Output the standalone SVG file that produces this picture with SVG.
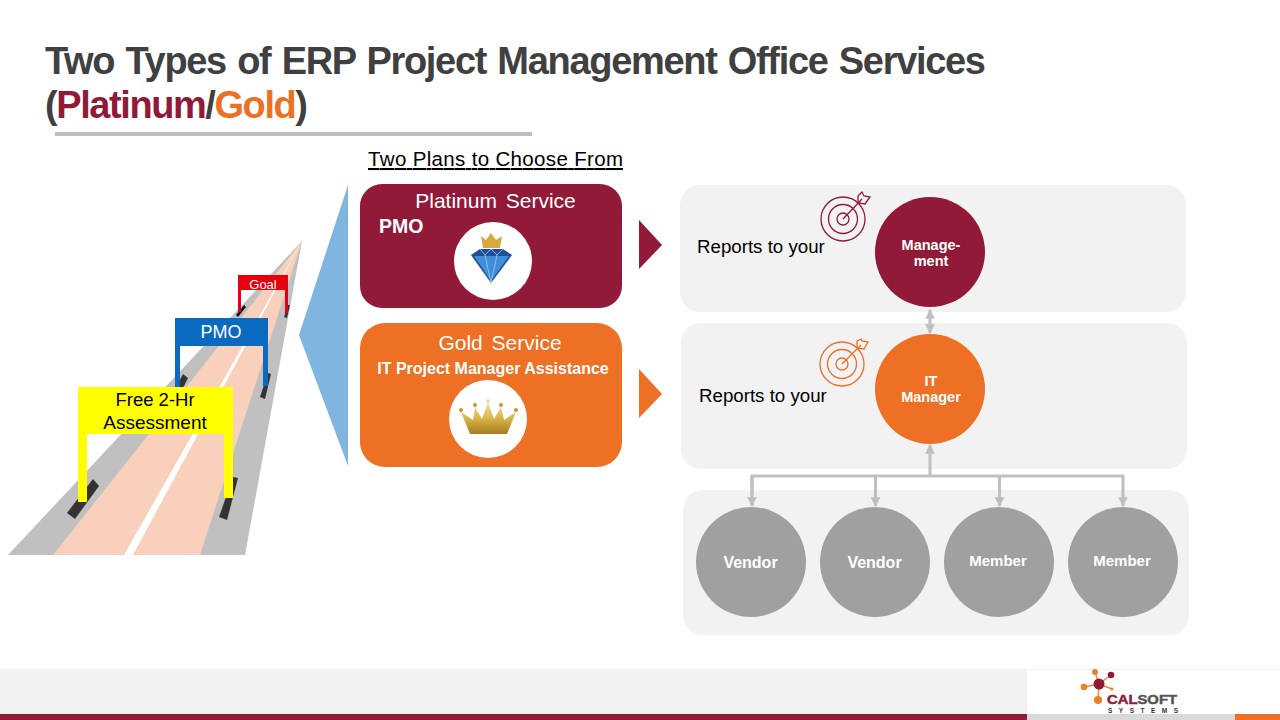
<svg xmlns="http://www.w3.org/2000/svg" width="1280" height="720" viewBox="0 0 1280 720">
<style>
text{font-family:"Liberation Sans",Arial,sans-serif}
.title{font-size:38px;font-weight:700;fill:#404040;word-spacing:2px}
.panel{fill:#f2f2f2}
.w{fill:#fff}
.c{text-anchor:middle}
.b{font-weight:700}
.dark{fill:#333}
.conn{stroke:#bfbfbf;stroke-width:3;fill:none}
.grey{fill:#a0a0a0}
</style>
<defs>
<linearGradient id="gold" x1="0" y1="0" x2="0" y2="1"><stop offset="0" stop-color="#f6e7b0"/><stop offset="0.5" stop-color="#d9b44a"/><stop offset="1" stop-color="#a97d1e"/></linearGradient>
<marker id="ah" viewBox="0 0 10 10" refX="9" refY="5" markerWidth="3.200" markerHeight="3.200" orient="auto-start-reverse"><path d="M0 0L10 5L0 10Z" fill="#bfbfbf"/></marker>
</defs>
<rect width="1280" height="720" fill="#fff"/>
<g id="title">
<text class="title" x="45" y="74" textLength="941" lengthAdjust="spacing">Two Types of ERP Project Management Office Services</text>
<text class="title" x="45" y="118" textLength="263" lengthAdjust="spacing">(<tspan fill="#911a38">Platinum</tspan>/<tspan fill="#ed7024">Gold</tspan>)</text>
<rect x="55" y="132" width="477" height="4" fill="#bfbfbf"/>
</g>
<g id="road">
<polygon points="8,555 245,555 302,241" fill="#c0c0c0"/>
<polygon points="53,555 200,555 302,241" fill="#f8d0bc"/>
<polygon points="124,555 133,555 302,241" fill="#fff"/>
<polygon class="dark" points="67,513 75,519 99,486 93,479"/>
<polygon class="dark" points="219,517 227,520 238,478 233,477"/>
<polygon class="dark" points="176,387 182,390 188,378 183,374"/>
<polygon class="dark" points="260,397 265,399 271,374 268,373"/>
<polygon fill="#111" points="236,315 238,317 246,307 244,305"/>
<polygon class="dark" points="284,317 287,318 290,305 288,305"/>
</g>
<g id="goal">
<path fill="#e6000e" d="M238 275H288V313H285V290H241V312H238Z"/>
<text class="c" x="263" y="289" font-size="13" fill="#fff">Goal</text>
</g>
<g id="pmo-gate">
<path fill="#0a6abf" d="M175 318H268V386H263V346H180V387H175Z"/>
<text class="c" x="221" y="338" font-size="18" fill="#fff">PMO</text>
</g>
<g id="assessment">
<path fill="#ffff00" d="M78 387H233V498H224V434H87V502H78Z"/>
<text class="c" x="155" y="406" font-size="18.500" fill="#000">Free 2-Hr</text>
<text class="c" x="155" y="429" font-size="19" fill="#000">Assessment</text>
</g>
<polygon id="callout" points="348,185 348,466 299,335" fill="#7fb5de"/>
<text id="plans" x="368" y="166" font-size="20.500" fill="#000" text-decoration="underline" textLength="255">Two Plans to Choose From</text>
<g id="platinum">
<rect x="360" y="184" width="262" height="124" rx="22" fill="#911a38"/>
<text class="c w" x="495.500" y="208" font-size="21" word-spacing="3">Platinum Service</text>
<text class="w b" x="379" y="233" font-size="19.500">PMO</text>
<circle cx="493" cy="261" r="39" fill="#fff"/>
<path d="M481 236L486 240L491 233L496 240L502 236L500 248H483Z" fill="#d9a93c"/>
<polygon points="471,255 480,249 503,249 512,255 491,283" fill="#1f4f9a"/>
<polygon points="474,256 509,256 491,281" fill="#3f8ed8"/>
<path d="M480 249L485 255L491 249L497 255L503 249M485 255L491 283L497 255" fill="none" stroke="#9fcbee" stroke-width="0.800"/>
</g>
<g id="gold-service">
<rect x="360" y="323" width="262" height="144" rx="25" fill="#ed7024"/>
<text class="c w" x="500" y="350" font-size="21" word-spacing="3">Gold Service</text>
<text class="c w b" x="493" y="374" font-size="16">IT Project Manager Assistance</text>
<circle cx="488" cy="419" r="39" fill="#fff"/>
<path d="M470 434L461 412L473 420L475 407L482 419L488 402L494 419L501 407L504 420L516 412L507 434Z" fill="url(#gold)"/>
<g fill="#c29a35"><circle cx="461" cy="410" r="2"/><circle cx="475" cy="405" r="2"/><circle cx="488" cy="401" r="2" fill="#eedc9f"/><circle cx="501" cy="405" r="2"/><circle cx="516" cy="410" r="2"/></g>
</g>
<polygon id="arrow-platinum" points="639,220 662,245 639,269" fill="#911a38"/>
<polygon id="arrow-gold" points="639,369 662,394 639,418" fill="#ed7024"/>
<g id="panels">
<rect class="panel" x="680" y="185" width="506" height="127" rx="20"/>
<rect class="panel" x="681" y="323" width="506" height="146" rx="20"/>
<rect class="panel" x="683" y="490" width="506" height="145" rx="20"/>
</g>
<text id="reports1" x="697" y="253" font-size="18.700" fill="#000">Reports to your</text>
<text id="reports2" x="699" y="402" font-size="18.700" fill="#000">Reports to your</text>
<g id="target1" fill="none" stroke="#911a38" stroke-width="1.300">
<circle cx="843" cy="219" r="22"/><circle cx="843" cy="219" r="14.500"/><circle cx="843" cy="219" r="6"/>
<path d="M843 219L862 199M858 196L858 203L865 204L870 197L864 196L862 192Z"/>
</g>
<g id="target2" fill="none" stroke="#ed7024" stroke-width="1.300">
<circle cx="842" cy="364" r="22"/><circle cx="842" cy="364" r="14.500"/><circle cx="842" cy="364" r="6"/>
<path d="M842 364L861 345M857 341L857 348L864 349L868 342L862 341L861 339Z"/>
</g>
<g id="connectors">
<path class="conn" d="M930 310V333" marker-start="url(#ah)" marker-end="url(#ah)"/>
<path class="conn" d="M930 476V445" marker-end="url(#ah)"/>
<path class="conn" d="M752 506V476H1123V506" marker-end="url(#ah)"/>
<path class="conn" d="M752 476V506" marker-end="url(#ah)"/>
<path class="conn" d="M875.500 476V506" marker-end="url(#ah)"/>
<path class="conn" d="M999.500 476V506" marker-end="url(#ah)"/>
</g>
<g id="management"><circle cx="930" cy="252" r="55" fill="#911a38"/>
<text class="c w b" x="931" y="250" font-size="14.500">Manage-</text><text class="c w b" x="931" y="266" font-size="14.500">ment</text></g>
<g id="it-manager"><circle cx="930" cy="389" r="55" fill="#ed7024"/>
<text class="c w b" x="931" y="386" font-size="14.500">IT</text><text class="c w b" x="931" y="402" font-size="14.500">Manager</text></g>
<g id="vendor1"><circle class="grey" cx="751" cy="562" r="55"/><text class="c w b" x="750.500" y="568" font-size="16">Vendor</text></g>
<g id="vendor2"><circle class="grey" cx="875" cy="562" r="55"/><text class="c w b" x="874.500" y="568" font-size="16">Vendor</text></g>
<g id="member1"><circle class="grey" cx="999" cy="562" r="55"/><text class="c w b" x="998" y="566" font-size="15">Member</text></g>
<g id="member2"><circle class="grey" cx="1123" cy="562" r="55"/><text class="c w b" x="1122" y="566" font-size="15">Member</text></g>
<g id="footer">
<rect y="669" width="1280" height="45" fill="#f2f2f2"/>
<rect x="1027" y="670" width="253" height="44" fill="#fff"/>
<rect y="714" width="1027" height="6" fill="#911a38"/>
<rect x="1027" y="714" width="208" height="6" fill="#d9d9d9"/>
<rect x="1235" y="714" width="45" height="6" fill="#ed7024"/>
</g>
<g id="logo">
<path d="M1099 684L1095 672M1099 684L1111 675M1099 684L1084 687M1099 684L1098 700M1099 684L1112 689" stroke="#e98a3a" stroke-width="1.500"/>
<circle cx="1099" cy="684" r="5.500" fill="#911a38"/>
<circle cx="1095" cy="672" r="3" fill="#ed7f24"/>
<circle cx="1111" cy="675" r="3.300" fill="#911a38"/>
<circle cx="1084" cy="687" r="3.300" fill="#ed7f24"/>
<circle cx="1098" cy="700" r="4" fill="#ed7f24"/>
<circle cx="1112" cy="689" r="1.600" fill="#ed7f24"/>
<text x="1107" y="704" font-size="13.500" font-weight="700" textLength="70" lengthAdjust="spacingAndGlyphs" stroke-width="0.500" stroke="#555" fill="#555"><tspan fill="#911a38" stroke="#911a38">CAL</tspan>SOFT</text>
<text x="1108" y="713" font-size="6.500" font-weight="700" fill="#333" textLength="70">SYSTEMS</text>
</g>
</svg>
